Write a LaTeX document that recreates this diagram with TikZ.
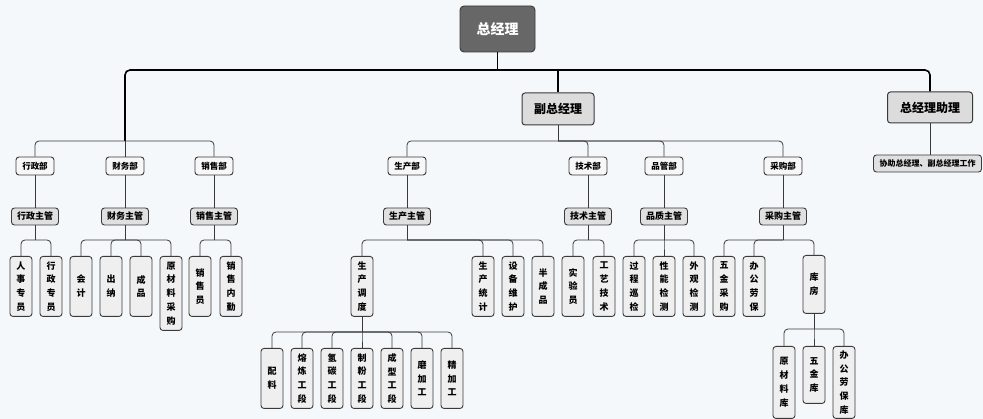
\documentclass[tikz,border=0pt]{standalone}
\usepackage{fontspec}
\setmainfont{Noto Sans CJK SC}
\definecolor{bgc}{HTML}{F4F8FA}
\definecolor{edgec}{HTML}{3A3A3A}
\definecolor{topfill}{HTML}{676767}
\definecolor{lvfill}{HTML}{DCDCDC}
\definecolor{mgrfill}{HTML}{E0E0E0}
\definecolor{deptfill}{HTML}{F7F7F7}
\definecolor{leaffill}{HTML}{EFEFEF}
\begin{document}
\begin{tikzpicture}[x=1pt,y=-1pt,
  box/.style={draw=edgec, line width=0.9pt, rounded corners=3pt, inner sep=0pt, align=center},
  topbox/.style={box, fill=topfill, text=white, rounded corners=4pt, minimum width=75pt, minimum height=46pt, font=\fontsize{14}{16}\selectfont\bfseries},
  lvbox/.style={box, fill=lvfill, line width=1pt, minimum height=32pt, font=\fontsize{12}{14}\selectfont\bfseries},
  deptbox/.style={box, fill=deptfill, minimum width=38pt, minimum height=18pt, font=\fontsize{8.5}{10}\selectfont\bfseries},
  mgrbox/.style={box, fill=mgrfill, minimum width=47pt, minimum height=17pt, font=\fontsize{9}{11}\selectfont\bfseries},
  leaf/.style={box, fill=leaffill, anchor=north, minimum width=22pt, text width=10pt, minimum height=60pt, font=\fontsize{9}{13.8}\selectfont\bfseries},
  mainline/.style={draw=black, line width=1.6pt},
  conn/.style={draw=edgec, line width=0.8pt},
  rconn/.style={conn, rounded corners=4pt}
]
\fill[bgc] (0,0) rectangle (983,419);
\useasboundingbox (0,0) rectangle (983,419);

% top levels
\node[topbox] (gm) at (497.5,29) {总经理};
\node[lvbox, minimum width=72pt] (vgm) at (558,109) {副总经理};
\node[lvbox, minimum width=85pt, minimum height=31pt] (ast) at (930,107.5) {总经理助理};
\node[mgrbox, minimum width=108pt, font=\fontsize{8}{10}\selectfont\bfseries] (help) at (927.5,163.5) {协助总经理、副总经理工作};

% departments
\node[deptbox] (xz) at (35,166) {行政部};
\node[deptbox] (cw) at (125,166) {财务部};
\node[deptbox] (xs) at (214,166) {销售部};
\node[deptbox] (sc) at (407,166) {生产部};
\node[deptbox] (js) at (588,166) {技术部};
\node[deptbox] (pg) at (664,166) {品管部};
\node[deptbox] (cg) at (783,166) {采购部};

% managers
\node[mgrbox] (xzm) at (35,216.5) {行政主管};
\node[mgrbox] (cwm) at (125,216.5) {财务主管};
\node[mgrbox] (xsm) at (214,216.5) {销售主管};
\node[mgrbox] (scm) at (407,216.5) {生产主管};
\node[mgrbox] (jsm) at (588,216.5) {技术主管};
\node[mgrbox] (pgm) at (664,216.5) {品质主管};
\node[mgrbox] (cgm) at (783,216.5) {采购主管};

% leaves row A
\node[leaf] (a1) at (21,256) {人\\事\\专\\员};
\node[leaf] (a2) at (51,256) {行\\政\\专\\员};
\node[leaf] (b1) at (81,256) {会\\计};
\node[leaf] (b2) at (111,256) {出\\纳};
\node[leaf] (b3) at (141,256) {成\\品};
\node[leaf, minimum height=74pt] (b4) at (171,256) {原\\材\\料\\采\\购};
\node[leaf] (c1) at (200,256) {销\\售\\员};
\node[leaf] (c2) at (231,256) {销\\售\\内\\勤};
\node[leaf] (d1) at (362,256) {生\\产\\调\\度};
\node[leaf] (d2) at (483,256) {生\\产\\统\\计};
\node[leaf] (d3) at (513,256) {设\\备\\维\\护};
\node[leaf] (d4) at (543,256) {半\\成\\品};
\node[leaf] (e1) at (573,256) {实\\验\\员};
\node[leaf] (e2) at (604,256) {工\\艺\\技\\术};
\node[leaf] (f1) at (634,256) {过\\程\\巡\\检};
\node[leaf] (f2) at (664,256) {性\\能\\检\\测};
\node[leaf] (f3) at (694,256) {外\\观\\检\\测};
\node[leaf] (g1) at (724,256) {五\\金\\采\\购};
\node[leaf] (g2) at (754,256) {办\\公\\劳\\保};
\node[leaf, minimum height=58pt] (g3) at (814,255) {库\\房};

% row C (production sections)
\node[leaf] (h1) at (272,348) {配\\料};
\node[leaf] (h2) at (302,348) {熔\\炼\\工\\段};
\node[leaf] (h3) at (332,348) {氢\\碳\\工\\段};
\node[leaf] (h4) at (362,348) {制\\粉\\工\\段};
\node[leaf] (h5) at (392,348) {成\\型\\工\\段};
\node[leaf] (h6) at (422,348) {磨\\加\\工};
\node[leaf] (h7) at (452,348) {精\\加\\工};

% row D (warehouse)
\node[leaf, minimum height=72pt] (k1) at (784,346) {原\\材\\料\\库};
\node[leaf, minimum height=57pt] (k2) at (814,346) {五\\金\\库};
\node[leaf, minimum height=72pt] (k3) at (844,346) {办\\公\\劳\\保\\库};

% junction levels
\coordinate (bus) at (0,70);
\coordinate (lvl2) at (0,141);
\coordinate (lvl4) at (0,240);
\coordinate (lvl5) at (0,332);
\coordinate (lvl6) at (0,329);

% main bus
\draw[mainline] (gm.south) -- (gm.south |- bus);
\draw[mainline, rounded corners=5pt] (cw.north |- lvl2) -- (cw.north |- bus) -- (ast.north |- bus) -- (ast.north);
\draw[mainline] (vgm.north |- bus) -- (vgm.north);
\draw[conn] (ast.south) -- (help.north -| ast.south);

% left group
\draw[conn] (cw.north |- lvl2) -- (cw.north);
\foreach \c in {xz,xs} \draw[rconn] (cw.north |- lvl2) -| (\c.north);

% vice GM group
\draw[conn] (vgm.south) -- (vgm.south |- lvl2);
\foreach \c in {sc,js,pg,cg} \draw[rconn] (vgm.south |- lvl2) -| (\c.north);

% dept -> manager
\foreach \d in {xz,cw,xs,sc,js,pg,cg} \draw[conn] (\d.south) -- (\d m.north);

% manager -> leaves
\foreach \m/\ls in {xzm/{a1,a2}, cwm/{b1,b2,b3,b4}, xsm/{c1,c2}, scm/{d1,d2,d3,d4}, jsm/{e1,e2}, pgm/{f1,f2,f3}, cgm/{g1,g2,g3}} {
  \draw[conn] (\m.south) -- (\m.south |- lvl4);
  \foreach \l in \ls \draw[rconn] (\m.south |- lvl4) -| (\l.north);
}

% production dispatch -> sections
\draw[conn] (d1.south) -- (d1.south |- lvl5);
\foreach \l in {h1,h2,h3,h4,h5,h6,h7} \draw[rconn] (d1.south |- lvl5) -| (\l.north);

% warehouse -> stores
\draw[conn] (g3.south) -- (g3.south |- lvl6);
\foreach \l in {k1,k2,k3} \draw[rconn] (g3.south |- lvl6) -| (\l.north);
\end{tikzpicture}
\end{document}
